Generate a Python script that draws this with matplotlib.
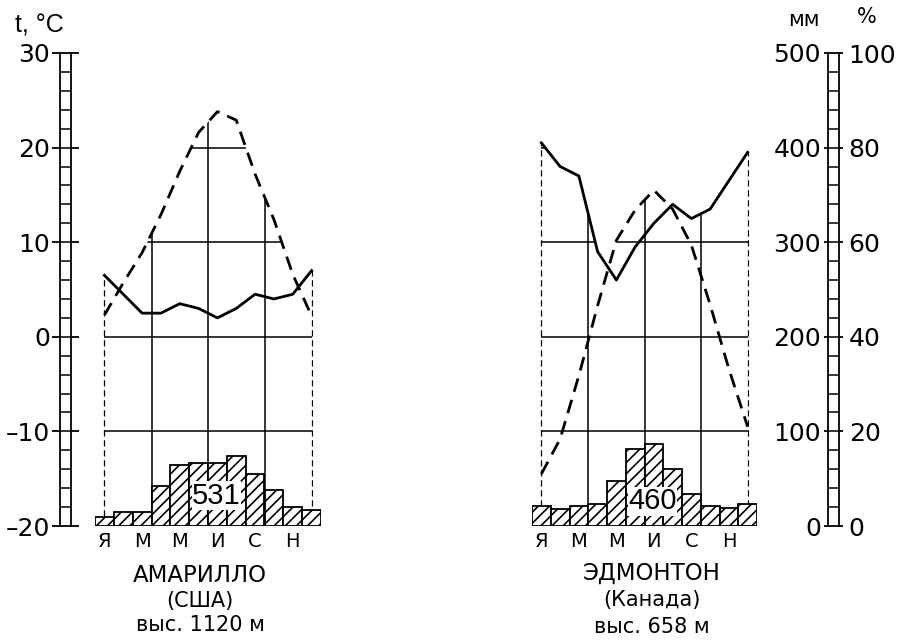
import numpy as np
import matplotlib

matplotlib.use("Agg")
import matplotlib.pyplot as plt
from matplotlib.patches import Polygon

plt.rcParams["font.family"] = ["DejaVu Sans"]
plt.rcParams["hatch.linewidth"] = 1.2

months = np.arange(1, 13)
month_ticks = [1, 3, 5, 7, 9, 11]
month_labels = ["Я", "М", "М", "И", "С", "Н"]

# шкалы
t_ticks = [-20, -10, 0, 10, 20, 30]
t_labels = ["–20", "–10", "0", "10", "20", "30"]
mm_ticks = [0, 100, 200, 300, 400, 500]
pct_ticks = [0, 20, 40, 60, 80, 100]

# Амарилло: температура (°C), влажность (%), осадки (мм)
ama_temp = [2.3, 5.7, 8.9, 12.9, 17.5, 21.6, 23.8, 22.9, 17.2, 12.4, 6.6, 2.2]
ama_hum = [53, 49, 45, 45, 47, 46, 44, 46, 49, 48, 49, 54]
ama_prec = [9, 15, 15, 42, 65, 67, 67, 74, 55, 38, 20, 17]
ama_total = 531

# Эдмонтон
edm_temp = [-14.5, -10.8, -4.1, 3.3, 10.2, 13.4, 15.5, 13.5, 9.7, 3.4, -3.4, -9.5]
edm_hum = [81, 76, 74, 58, 52, 59, 64, 68, 65, 67, 73, 79]
edm_prec = [21, 18, 21, 23, 48, 81, 87, 60, 34, 21, 19, 23]
edm_total = 460

W, H = 900, 644
fig = plt.figure(figsize=(W / 100, H / 100), dpi=100)


def box(x0, x1, y0=53, y1=526):
    # пиксели -> доли фигуры
    return [x0 / W, 1 - y1 / H, (x1 - x0) / W, (y1 - y0) / H]


def climate(x0, x1, temp, hum, prec, total, total_y, names, name_x):
    ax = fig.add_axes(box(x0, x1))
    ax.set_xlim(0.5, 12.5)
    ax.set_ylim(-20, 30)
    for s in ax.spines.values():
        s.set_visible(False)
    ax.patch.set_visible(False)
    ax.set_yticks([])
    ax.set_xticks(month_ticks, month_labels, fontsize=14)
    ax.tick_params(axis="x", length=0, pad=4)

    axp = ax.twinx()
    axp.set_ylim(0, 500)
    axp.axis("off")
    axh = ax.twinx()
    axh.set_ylim(0, 100)
    axh.axis("off")

    # сетка только под огибающей кривых
    xf = np.linspace(1, 12, 1101)
    tf = np.interp(xf, months, temp)
    hf = np.interp(xf, months, hum)
    hf_t = ax.transData.inverted().transform(
        axh.transData.transform(np.column_stack([xf, hf]))
    )[:, 1]
    top = np.maximum(tf, hf_t)
    pts = np.vstack(
        [[0.9, -20], [0.9, top[0]], np.column_stack([xf, top]), [12.1, top[-1]], [12.1, -20]]
    )
    clip = Polygon(pts, closed=True, transform=ax.transData)

    grid = [ax.hlines(t, 1, 12, color="k", lw=1.1) for t in [-10, 0, 10, 20]]
    grid.append(ax.vlines([3.5, 6.5, 9.5], -20, 30, color="k", lw=1.1))
    grid.append(
        ax.vlines([1, 12], -20, 30, color="k", lw=0.9, linestyles=[(0, (5, 3))])
    )
    for g in grid:
        g.set_clip_path(clip)

    ax.plot(months, temp, color="k", lw=2, ls=(0, (5, 3)))
    axp.bar(months, prec, width=1.0, color="white", edgecolor="k", hatch="///", lw=1.3)
    axp.text(
        6.95, total_y, str(total), ha="center", va="center", fontsize=21,
        family=["Liberation Sans", "DejaVu Sans"],
        bbox=dict(fc="white", ec="none", pad=0.3),
    )
    axh.plot(months, hum, color="k", lw=2)

    for (txt, y, fs) in names:
        fig.text(name_x / W, 1 - y / H, txt, ha="center", va="center", fontsize=fs)


climate(95, 321, ama_temp, ama_hum, ama_prec, ama_total, 32,
        [("АМАРИЛЛО", 575, 16.5), ("(США)", 601, 15), ("выс. 1120 м", 625, 15)], 200)
climate(532, 757, edm_temp, edm_hum, edm_prec, edm_total, 26,
        [("ЭДМОНТОН", 573, 16.5), ("(Канада)", 600, 15), ("выс. 658 м", 627, 15)], 652)

# левая шкала температуры
axl = fig.add_axes(box(60, 71))
axl.set_xlim(0, 1)
axl.set_ylim(-20, 30)
axl.hlines(np.arange(-18, 30, 2), 0, 1, color="k", lw=1.1)
axl.set_xticks([])
axl.set_yticks(t_ticks, t_labels)
axl.tick_params(axis="y", direction="out", length=5.5, width=1.3, labelsize=18, pad=1.5, right=True)
for s in axl.spines.values():
    s.set_linewidth(1.3)

# правая шкала: мм и %
axr = fig.add_axes(box(828, 839))
axr.set_xlim(0, 1)
axr.set_ylim(0, 500)
axr.hlines(np.arange(20, 500, 20), 0, 1, color="k", lw=1.1)
axr.set_xticks([])
axr.set_yticks(mm_ticks, [str(v) for v in mm_ticks])
axr.tick_params(axis="y", direction="out", length=3, width=1.3, labelsize=18, pad=2)
for s in axr.spines.values():
    s.set_linewidth(1.3)
axr2 = axr.twinx()
axr2.set_ylim(0, 100)
axr2.set_yticks(pct_ticks, [str(v) for v in pct_ticks])
axr2.tick_params(axis="y", direction="out", length=3, width=1.3, labelsize=18, pad=4)
for s in axr2.spines.values():
    s.set_visible(False)

fig.text(15 / W, 1 - 25 / H, "t, °C", ha="left", va="center", fontsize=18,
         family=["Liberation Sans", "DejaVu Sans"])
fig.text(804 / W, 1 - 20 / H, "мм", ha="center", va="center", fontsize=15)
fig.text(867 / W, 1 - 17 / H, "%", ha="center", va="center", fontsize=15)

plt.savefig("out.png", dpi=100)
